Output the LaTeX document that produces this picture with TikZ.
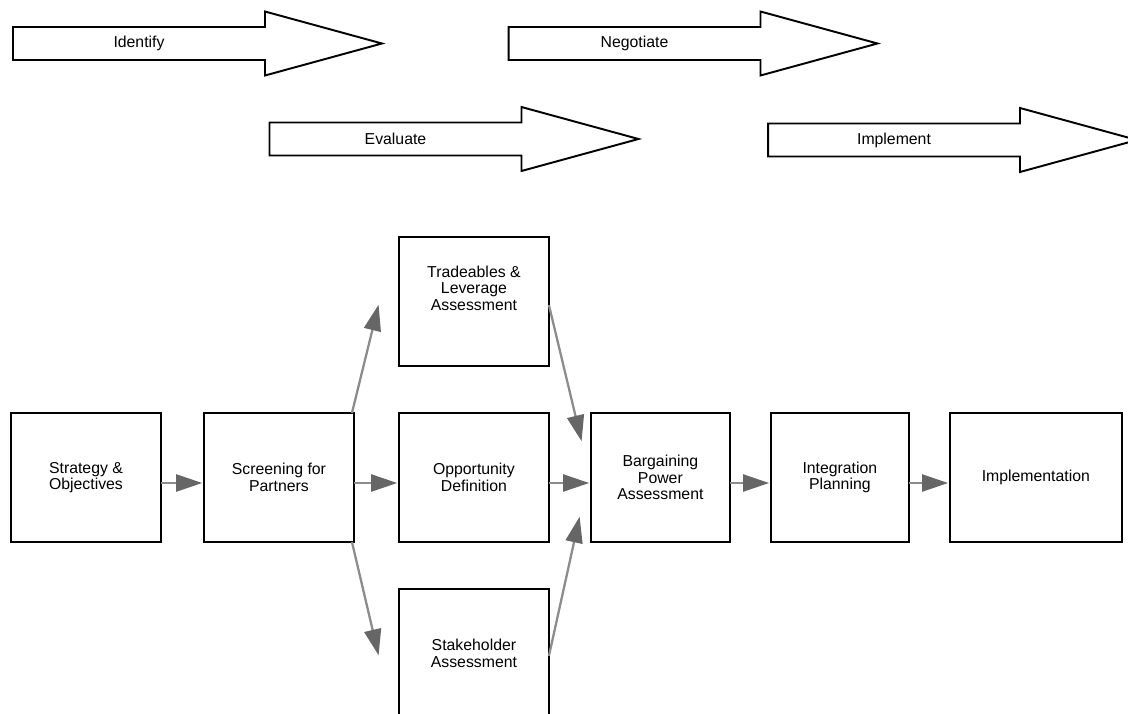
\documentclass[tikz,border=0pt]{standalone}
\usepackage{fontspec}
\setmainfont{Liberation Sans}
\usetikzlibrary{positioning,arrows.meta,calc}

\tikzset{
  stage/.style={draw, line width=1.1pt, minimum width=3cm, minimum height=2.58cm,
    align=center, inner sep=2pt, outer sep=0pt},
  phase/.style={minimum width=5.04cm, minimum height=0.66cm, inner sep=0pt, outer sep=0pt},
  phaseline/.style={line width=1.1pt, line join=miter},
  flow/.style={draw=black!45, line width=1.3pt, shorten >=1pt,
    -{Triangle[length=0.52cm,width=0.34cm,color=black!60,fill=black!60]}},
}

\begin{document}
\begin{tikzpicture}[x=0.02cm, y=-0.02cm, font=\fontsize{9}{9.5}\selectfont]
\useasboundingbox (0,0) rectangle (1128,713);

% phase arrows along the top
\foreach \nm/\cx/\cy/\lbl in {identify/139/43.5/Identify, negotiate/634.5/43.5/Negotiate,
    evaluate/395.5/139/Evaluate, implement/894/140/Implement}{
  \node[phase] (\nm) at (\cx,\cy) {\lbl};
  \draw[phaseline] (\nm.north west) -- (\nm.north east) -- ++(0,-15.5)
    -- ($(\nm.east)+(117,0)$) -- ($(\nm.south east)+(0,15.5)$)
    -- (\nm.south east) -- (\nm.south west) -- cycle;
}

% process stages
\node[stage] (strategy) at (86,477.5) {Strategy \&\\ Objectives};
\node[stage, right=0.86cm of strategy] (screening) {Screening for\\ Partners};
\node[stage, right=0.9cm of screening] (opportunity) {Opportunity\\ Definition};
\node[stage, above=0.94cm of opportunity] (tradeables) {Tradeables \&\\ Leverage\\ Assessment\\[1.2ex]};
\node[stage, below=0.94cm of opportunity] (stakeholder) {Stakeholder\\ Assessment};
\node[stage, minimum width=2.78cm, right=0.84cm of opportunity] (bargaining) {Bargaining\\ Power\\ Assessment};
\node[stage, minimum width=2.76cm, right=0.82cm of bargaining] (integration) {Integration\\ Planning};
\node[stage, minimum width=3.44cm, right=0.82cm of integration] (implementation) {Implementation};

% connectors
\draw[flow] ([yshift=-0.11cm]strategy.east) -- ([yshift=-0.11cm]screening.west);
\draw[flow] ([yshift=-0.11cm]screening.east) -- ([yshift=-0.11cm]opportunity.west);
\draw[flow] ([yshift=-0.11cm]opportunity.east) -- ([yshift=-0.11cm]bargaining.west);
\draw[flow] ([yshift=-0.11cm]bargaining.east) -- ([yshift=-0.11cm]integration.west);
\draw[flow] ([yshift=-0.11cm]integration.east) -- ([yshift=-0.11cm]implementation.west);

\coordinate (upTip) at (379,303);
\coordinate (downTip) at (379,657);
\coordinate (inTopTip) at (582,443);
\coordinate (inLowTip) at (580,515);
\draw[flow] ([xshift=-0.04cm]screening.north east) -- (upTip);
\draw[flow] ([xshift=-0.04cm]screening.south east) -- (downTip);
\draw[flow] ([yshift=-0.07cm]tradeables.east) -- (inTopTip);
\draw[flow] ([yshift=-0.05cm]stakeholder.east) -- (inLowTip);
\end{tikzpicture}
\end{document}
